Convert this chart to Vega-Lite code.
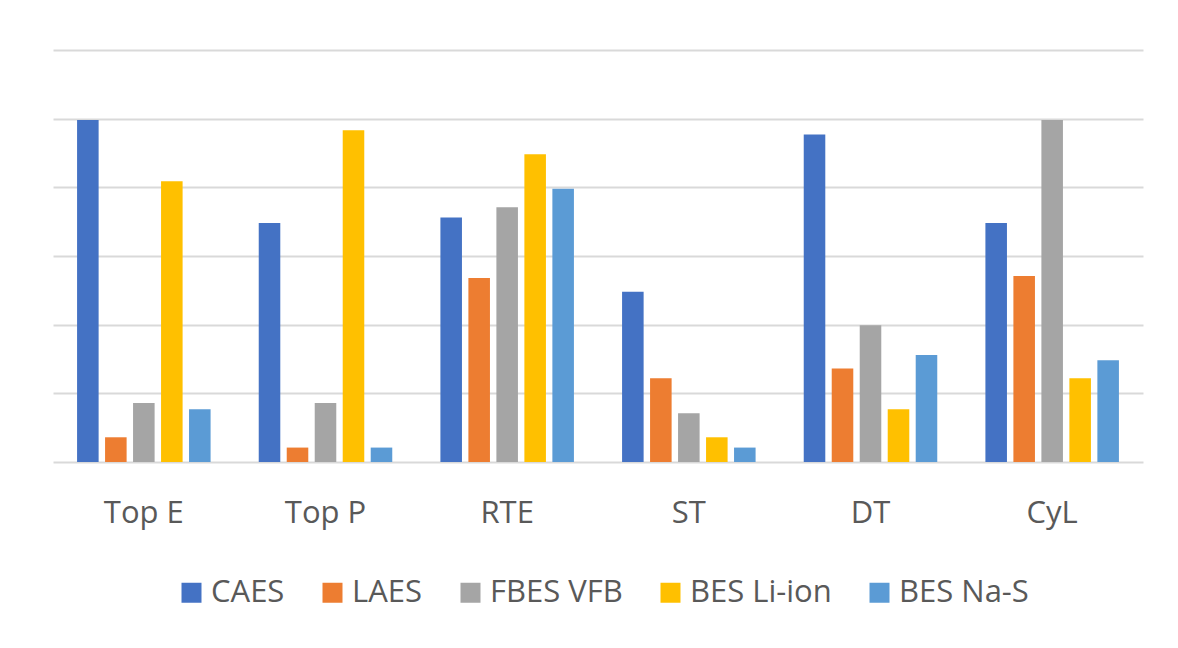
{
  "$schema": "https://vega.github.io/schema/vega-lite/v6.json",
  "width": 1090,
  "height": 412,
  "padding": {"left": 53, "top": 50, "right": 35, "bottom": 40},
  "background": "white",
  "data": {
    "values": [
      {"metric": "Top E", "series": "CAES", "value": 4.98},
      {"metric": "Top E", "series": "LAES", "value": 0.36},
      {"metric": "Top E", "series": "FBES VFB", "value": 0.86},
      {"metric": "Top E", "series": "BES Li-ion", "value": 4.09},
      {"metric": "Top E", "series": "BES Na-S", "value": 0.77},
      {"metric": "Top P", "series": "CAES", "value": 3.48},
      {"metric": "Top P", "series": "LAES", "value": 0.21},
      {"metric": "Top P", "series": "FBES VFB", "value": 0.86},
      {"metric": "Top P", "series": "BES Li-ion", "value": 4.83},
      {"metric": "Top P", "series": "BES Na-S", "value": 0.21},
      {"metric": "RTE", "series": "CAES", "value": 3.56},
      {"metric": "RTE", "series": "LAES", "value": 2.68},
      {"metric": "RTE", "series": "FBES VFB", "value": 3.71},
      {"metric": "RTE", "series": "BES Li-ion", "value": 4.48},
      {"metric": "RTE", "series": "BES Na-S", "value": 3.98},
      {"metric": "ST", "series": "CAES", "value": 2.48},
      {"metric": "ST", "series": "LAES", "value": 1.22},
      {"metric": "ST", "series": "FBES VFB", "value": 0.71},
      {"metric": "ST", "series": "BES Li-ion", "value": 0.36},
      {"metric": "ST", "series": "BES Na-S", "value": 0.21},
      {"metric": "DT", "series": "CAES", "value": 4.77},
      {"metric": "DT", "series": "LAES", "value": 1.36},
      {"metric": "DT", "series": "FBES VFB", "value": 1.99},
      {"metric": "DT", "series": "BES Li-ion", "value": 0.77},
      {"metric": "DT", "series": "BES Na-S", "value": 1.56},
      {"metric": "CyL", "series": "CAES", "value": 3.48},
      {"metric": "CyL", "series": "LAES", "value": 2.71},
      {"metric": "CyL", "series": "FBES VFB", "value": 4.98},
      {"metric": "CyL", "series": "BES Li-ion", "value": 1.22},
      {"metric": "CyL", "series": "BES Na-S", "value": 1.48}
    ]
  },
  "mark": {"type": "bar"},
  "encoding": {
    "x": {
      "field": "metric",
      "type": "nominal",
      "sort": ["Top E", "Top P", "RTE", "ST", "DT", "CyL"],
      "scale": {"paddingInner": 0.265, "paddingOuter": 0.1325},
      "axis": {
        "title": null,
        "labelAngle": 0,
        "domain": false,
        "ticks": false,
        "grid": false,
        "labelFontSize": 31,
        "labelFont": "Open Sans",
        "labelColor": "#595959",
        "labelPadding": 36
      }
    },
    "xOffset": {
      "field": "series",
      "type": "nominal",
      "sort": ["CAES", "LAES", "FBES VFB", "BES Li-ion", "BES Na-S"],
      "scale": {"paddingInner": 0.23, "paddingOuter": 0}
    },
    "y": {
      "field": "value",
      "type": "quantitative",
      "scale": {"domain": [0, 6], "nice": false},
      "axis": {
        "title": null,
        "labels": false,
        "ticks": false,
        "domain": false,
        "values": [0, 1, 2, 3, 4, 5, 6],
        "gridColor": "#d9d9d9",
        "gridWidth": 2
      }
    },
    "color": {
      "field": "series",
      "type": "nominal",
      "sort": ["CAES", "LAES", "FBES VFB", "BES Li-ion", "BES Na-S"],
      "scale": {
        "domain": ["CAES", "LAES", "FBES VFB", "BES Li-ion", "BES Na-S"],
        "range": ["#4472c4", "#ed7d31", "#a5a5a5", "#ffc000", "#5b9bd5"]
      },
      "legend": {
        "title": null,
        "orient": "none",
        "direction": "horizontal",
        "legendX": 123,
        "legendY": 527,
        "symbolType": "square",
        "symbolSize": 400,
        "symbolStrokeWidth": 0,
        "symbolOpacity": 1,
        "labelFontSize": 31,
        "labelFont": "Open Sans",
        "labelColor": "#595959",
        "labelOffset": 4,
        "columnPadding": 32,
        "labelLimit": 400
      }
    }
  },
  "config": {"view": {"stroke": null}}
}
